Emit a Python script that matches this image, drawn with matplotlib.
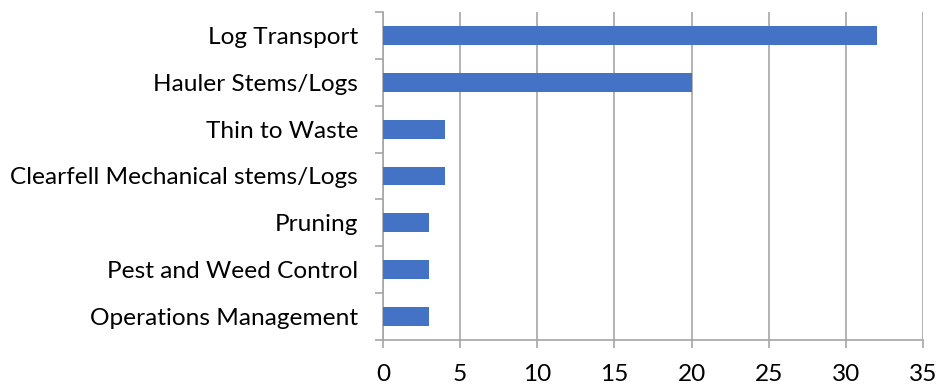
import matplotlib
matplotlib.use("Agg")
import matplotlib.pyplot as plt

categories = [
    "Log Transport",
    "Hauler Stems/Logs",
    "Thin to Waste",
    "Clearfell Mechanical stems/Logs",
    "Pruning",
    "Pest and Weed Control",
    "Operations Management",
]
values = [32, 20, 4, 4, 3, 3, 3]
x_ticks = [0, 5, 10, 15, 20, 25, 30, 35]

plt.rcParams["font.family"] = ["Lato", "DejaVu Sans"]

fig = plt.figure(figsize=(9.39, 3.88), dpi=100)
W, H = 939, 388
left, right, top, bottom = 383, 923, 12, 340
ax = fig.add_axes([left / W, 1 - bottom / H, (right - left) / W, (bottom - top) / H])

grid_color = "#A6A6A6"
n = len(categories)
ypos = list(range(n))
ax.barh(ypos, values, height=0.4, color="#4472C4", zorder=3)
ax.set_ylim(n - 0.5, -0.5)
ax.set_xlim(0, 35)

fs = 17.6
ax.set_xticks(x_ticks)
ax.set_xticklabels([str(t) for t in x_ticks], fontsize=fs)
ax.set_yticks(ypos)
ax.set_yticklabels(categories, fontsize=fs)
ax.tick_params(axis="y", length=0, pad=18)
ax.tick_params(axis="x", length=6, color=grid_color, pad=11, width=1.2)

# category boundary ticks on the left spine
ax.set_yticks([i - 0.5 for i in range(n + 1)], minor=True)
ax.tick_params(axis="y", which="minor", length=6, color=grid_color, width=1.2)

ax.xaxis.grid(True, color=grid_color, linewidth=1.2, zorder=0)
ax.set_axisbelow(True)
for side in ["top", "right"]:
    ax.spines[side].set_visible(False)
for side in ["left", "bottom"]:
    ax.spines[side].set_color(grid_color)
    ax.spines[side].set_linewidth(1.2)

fig.savefig("out.png", dpi=100, facecolor="white")
